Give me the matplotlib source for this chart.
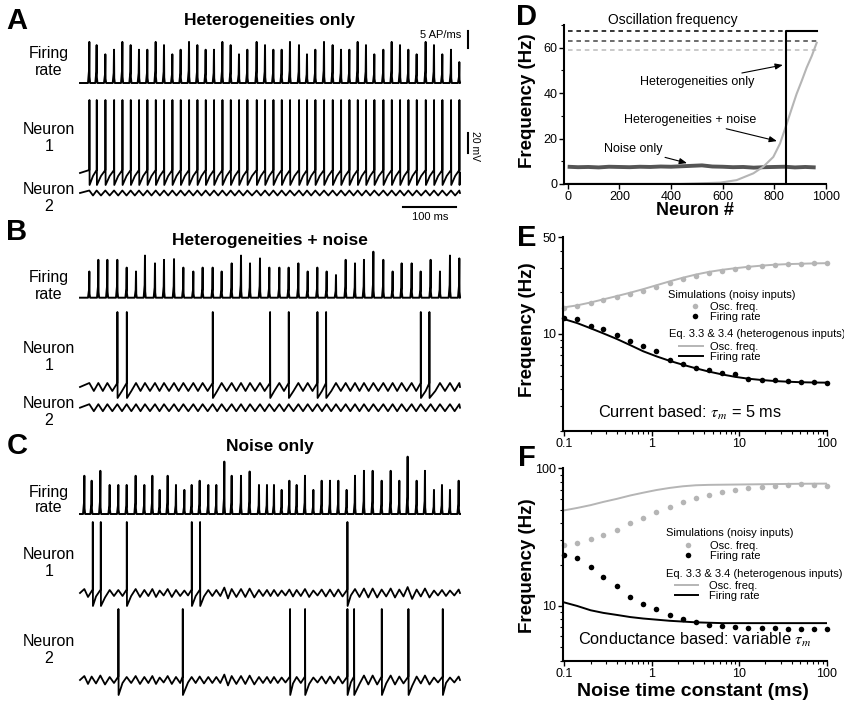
import numpy as np
import matplotlib.pyplot as plt
from matplotlib.lines import Line2D
from matplotlib.ticker import FixedLocator, FixedFormatter, NullFormatter

plt.rcParams['font.family'] = ['Liberation Sans', 'DejaVu Sans']
plt.rcParams['mathtext.fontset'] = 'stix'

# ---------------- data ----------------
T_END = 717  # ms of trace shown in A-C

# A: heterogeneities only (population peaks, ms and AP/ms)
a_rate_t = [17.6, 31.4, 47.8, 64.2, 79.9, 95.6, 111.3, 127.0, 142.8, 158.5, 174.2, 189.9,
            205.7, 221.4, 237.1, 252.8, 268.6, 284.3, 300.0, 315.7, 333.3, 349.1, 364.8,
            380.5, 396.2, 413.2, 428.3, 444.0, 460.4, 476.7, 492.5, 508.2, 523.9, 539.6,
            555.3, 572.3, 588.1, 603.8, 619.5, 635.2, 652.2, 667.9, 683.6, 700.0, 715.7]
a_rate_h = [11.6, 10.7, 8.1, 9.4, 11.6, 10.7, 9.4, 9.4, 11.6, 10.7, 8.1, 9.4, 11.6, 10.7,
            9.4, 9.4, 11.6, 10.7, 8.1, 9.4, 11.6, 10.7, 9.4, 9.4, 11.6, 10.7, 8.1, 9.4, 11.6,
            10.7, 9.4, 9.4, 11.6, 10.7, 8.1, 9.4, 11.6, 10.7, 9.4, 8.1, 11.6, 10.7, 8.1, 9.4, 5.9]
a_n1_spikes = list(a_rate_t)
a_n2_spikes = []

# B: heterogeneities + noise
b_rate_t = [17.6, 34.6, 51.6, 70.4, 88.1, 105.7, 122.6, 141.5, 158.5, 177.4, 195.0, 213.8,
            231.4, 250.3, 267.3, 286.2, 303.8, 320.8, 339.6, 357.2, 376.1, 393.7, 412.0,
            429.6, 447.8, 465.4, 483.0, 501.3, 518.9, 535.8, 553.5, 572.3, 589.9, 606.9,
            625.8, 642.8, 661.6, 679.2, 698.1, 715.7]
b_rate_h = [7.4, 10.7, 10.7, 10.7, 8.5, 7.4, 11.9, 9.7, 10.7, 10.9, 8.5, 7.4, 8.5, 8.5,
            7.4, 9.7, 11.9, 9.7, 11.1, 8.5, 8.5, 8.5, 9.7, 7.4, 8.5, 7.4, 6.4, 10.7, 9.7,
            10.7, 13.0, 10.7, 7.4, 9.7, 9.7, 7.4, 10.7, 7.4, 11.9, 11.1]
b_n1_spikes = [70.4, 88.1, 250.3, 358.5, 393.7, 447.8, 464.2, 642.8, 659.1]
b_n2_spikes = []

# C: noise only
c_rate_t = [8.2, 22.0, 38.4, 56.0, 72.3, 88.1, 105.0, 121.4, 136.5, 150.3, 165.4, 181.1,
            196.9, 210.7, 225.8, 242.1, 257.2, 272.3, 286.2, 303.8, 320.1, 337.7, 352.8,
            366.0, 380.5, 395.0, 408.8, 424.5, 440.3, 456.0, 471.7, 487.4, 503.1, 518.9,
            535.8, 552.2, 569.2, 586.2, 602.5, 618.2, 635.2, 650.9, 667.9, 683.0, 698.1, 714.5]
c_rate_h = [10.8, 9.4, 12.2, 8.2, 8.2, 8.2, 10.8, 8.2, 10.8, 6.8, 10.8, 8.2, 6.8, 8.2,
            9.4, 8.2, 8.2, 14.8, 10.8, 10.8, 12.0, 8.2, 8.2, 8.2, 6.8, 9.4, 8.2, 10.8, 6.8,
            9.4, 9.4, 9.4, 6.8, 10.8, 12.2, 12.2, 9.4, 12.2, 9.4, 16.2, 9.4, 12.2, 6.8, 8.2,
            6.8, 9.4]
c_n1_spikes = [23.9, 39.0, 88.1, 210.7, 226.4, 504.4]
c_n2_spikes = [72.3, 193.7, 396.2, 424.5, 504.4, 517.0, 569.2, 619.5, 684.3]

# D: frequency per neuron
d_het_x = [0, 845, 845, 964]
d_het_y = [0, 0, 67.3, 67.3]
d_hetnoise_x = [0, 435, 590, 654, 719, 757, 796, 822, 848, 867, 886, 906, 925, 945, 964]
d_hetnoise_y = [0, 0, 0.6, 1.7, 4.7, 7.6, 11.9, 17.8, 26.5, 33.1, 39.6, 45.4, 51.2, 56.4, 62.2]
d_noise_x = [0, 40, 80, 120, 160, 200, 240, 280, 320, 360, 400, 440, 480, 520, 560, 600,
             640, 680, 720, 760, 800, 840, 880, 920, 960]
d_noise_y = [7.6, 7.4, 7.5, 7.3, 7.6, 7.5, 7.4, 7.6, 7.5, 7.7, 7.6, 7.8, 8.0, 8.2, 7.7,
             7.6, 7.4, 7.5, 7.2, 7.4, 7.5, 7.6, 7.3, 7.5, 7.3]
d_osc = [67.3, 63.0, 59.0]
d_osc_colors = ['#000000', '#444444', '#bbbbbb']

# E, F: frequency vs noise time constant
tau_noise = [0.1, 0.14, 0.2, 0.28, 0.4, 0.57, 0.8, 1.13, 1.6, 2.26, 3.2, 4.5, 6.4, 9.05,
             12.8, 18.1, 25.6, 36.2, 51.2, 72.4, 100]
e_sim_osc = [15.5, 15.9, 16.7, 17.5, 18.4, 19.4, 20.6, 22.0, 23.5, 24.8, 26.3, 27.5, 28.5,
             29.7, 30.3, 31.0, 31.7, 31.9, 32.2, 32.4, 32.4]
e_sim_rate = [13.1, 12.9, 11.4, 10.8, 9.8, 8.95, 8.23, 7.58, 6.45, 6.04, 5.68, 5.49, 5.20,
              5.11, 4.75, 4.68, 4.62, 4.57, 4.52, 4.50, 4.45]
e_eq_osc = [15.6, 16.1, 16.9, 17.8, 18.8, 19.9, 21.1, 22.5, 24.0, 25.5, 26.9, 28.1, 29.1,
            29.9, 30.6, 31.2, 31.7, 32.0, 32.2, 32.4, 32.5]
e_eq_rate = [12.8, 12.0, 11.0, 10.1, 9.2, 8.3, 7.5, 6.9, 6.4, 6.0, 5.65, 5.35, 5.1, 4.9,
             4.75, 4.65, 4.57, 4.52, 4.48, 4.46, 4.45]
f_sim_osc = [27.6, 28.7, 30.7, 33.0, 35.9, 40.1, 43.5, 47.9, 52.3, 56.5, 60.4, 63.5, 66.8,
             69.4, 71.4, 73.0, 73.8, 75.0, 76.3, 75.8, 73.8]
f_sim_rate = [23.6, 22.4, 19.2, 16.2, 14.0, 11.6, 10.4, 9.46, 8.61, 7.97, 7.58, 7.25, 7.17,
              7.01, 6.90, 6.90, 6.86, 6.78, 6.75, 6.78, 6.78]
f_eq_osc = [49.5, 51.5, 54.0, 57.0, 60.0, 63.5, 66.5, 69.5, 72.0, 74.0, 75.3, 75.8, 76.0,
            76.2, 76.4, 76.6, 76.8, 77.0, 77.2, 77.3, 77.4]
f_eq_rate = [10.6, 10.0, 9.3, 8.9, 8.6, 8.3, 8.1, 7.95, 7.8, 7.7, 7.6, 7.55, 7.5, 7.5, 7.5,
             7.5, 7.5, 7.5, 7.5, 7.5, 7.5]

GRAY = '#b5b5b5'

# ---------------- figure helpers (pixel layout) ----------------
W, H = 844, 702
fig = plt.figure(figsize=(W / 100, H / 100), dpi=100)
FS_PX = 100 / 72


def add_ax(left, top, width, height):
    return fig.add_axes([left / W, 1 - (top + height) / H, width / W, height / H])


def ftext(x, y, s, **kw):
    kw.setdefault('ha', 'center')
    kw.setdefault('va', 'center')
    return fig.text(x / W, 1 - y / H, s, **kw)


X0, X1 = 80, 460


def trace_ax(top, bottom, base_px, px_per_unit):
    ax = add_ax(X0, top, X1 - X0, bottom - top)
    ax.set_xlim(0, T_END)
    ax.set_ylim(-(bottom - base_px) / px_per_unit, (base_px - top) / px_per_unit)
    ax.axis('off')
    return ax


def rate_trace(ax, times, heights):
    t, y = [0.0], [0.0]
    for tk, hk in zip(times, heights):
        t += [tk - 2.5, tk - 0.6, tk, tk + 0.4, tk + 1.5]
        y += [0, 0.3 * hk, hk, 0.15 * hk, 0]
    t.append(T_END)
    y.append(0.0)
    ax.plot(t, y, color='k', lw=1.4, clip_on=False)


def membrane(ax, cycles, spikes, swing, peak, reset, scale=None):
    if scale is None:
        scale = [1.0] * len(cycles)
    pts = [(0.0, 0.0)]
    for i, c in enumerate(cycles):
        if min([abs(c - s) for s in spikes] + [99]) > 4:
            pts.append((c, swing * scale[i] / 2))
        if i + 1 < len(cycles):
            pts.append(((c + cycles[i + 1]) / 2, -swing * scale[i] / 2))
    for s in spikes:
        pts += [(s, swing / 2), (s + 0.2, peak), (s + 0.5, reset)]
    pts.append((T_END, 0.0))
    pts.sort()
    t, v = zip(*pts)
    ax.plot(t, v, color='k', lw=1.3, clip_on=False)


def label_block(y, text, spacing=1.2):
    ftext(49, y, text, fontsize=11.5, linespacing=spacing)


# ---------------- A ----------------
ax = trace_ax(28, 86, 83, 3.54)
rate_trace(ax, a_rate_t, a_rate_h)
ax.plot([732, 732], [9.8, 14.8], color='k', lw=1.5, clip_on=False)
ax = trace_ax(95, 190, 173, 1.0)
membrane(ax, a_rate_t, a_n1_spikes, 6, 73, -12)
ax.plot([732, 732], [20, 40], color='k', lw=1.5, clip_on=False)
ax = trace_ax(185, 200, 193, 1.0)
membrane(ax, a_rate_t, a_n2_spikes, 5, 0, 0)
ax.plot([609, 709], [-14, -14], color='k', lw=1.5, clip_on=False)

ftext(461, 35, '5 AP/ms', fontsize=8, ha='right')
ftext(475, 146, '20 mV', fontsize=7.5, rotation=-90)
ftext(430, 217, '100 ms', fontsize=8)
ftext(270, 20, 'Heterogeneities only', fontsize=12.5, fontweight='bold')
label_block(62, 'Firing\nrate')
label_block(138, 'Neuron\n1')
label_block(198, 'Neuron\n2')

# ---------------- B ----------------
ax = trace_ax(245, 300, 297.7, 3.54)
rate_trace(ax, b_rate_t, b_rate_h)
ax = trace_ax(305, 402, 387, 1.0)
membrane(ax, b_rate_t, b_n1_spikes, 8, 75, -11)
ax = trace_ax(400, 416, 407.7, 1.0)
membrane(ax, b_rate_t, b_n2_spikes, 7, 0, 0)
ftext(270, 240, 'Heterogeneities + noise', fontsize=12.5, fontweight='bold')
label_block(286, 'Firing\nrate')
label_block(357, 'Neuron\n1')
label_block(412, 'Neuron\n2')

# ---------------- C ----------------
c_scale = list(np.array(c_rate_h) / np.mean(c_rate_h))
ax = trace_ax(452, 517, 514, 3.54)
rate_trace(ax, c_rate_t, c_rate_h)
ax = trace_ax(518, 610, 593, 1.0)
membrane(ax, c_rate_t, c_n1_spikes, 7, 71, -13, c_scale)
ax = trace_ax(605, 700, 680, 1.0)
membrane(ax, c_rate_t, c_n2_spikes, 7, 71, -15, c_scale)
ftext(270, 446, 'Noise only', fontsize=12.5, fontweight='bold')
label_block(500, 'Firing\nrate', 1.0)
label_block(563, 'Neuron\n1')
label_block(650, 'Neuron\n2')


# ---------------- right column ----------------
def style(ax):
    for s in ['top', 'right']:
        ax.spines[s].set_visible(False)
    for s in ['left', 'bottom']:
        ax.spines[s].set_linewidth(1.5)
    ax.tick_params(which='major', length=3.5, width=1, labelsize=9, pad=1.5)
    ax.tick_params(which='minor', length=2, width=0.8)


# D
axD = add_ax(564.3, 25, 826 - 564.3, 159)
axD.set_xlim(-13, 1000)
axD.set_ylim(0, 70)
style(axD)
axD.set_xticks([0, 200, 400, 600, 800, 1000])
axD.set_yticks([0, 20, 40, 60])
axD.yaxis.set_minor_locator(FixedLocator([10, 30, 50, 70]))
for yv, col in zip(d_osc, d_osc_colors):
    axD.plot([0, 964], [yv, yv], color=col, lw=1.1, ls=(0, (3, 2.5)))
axD.plot(d_noise_x, d_noise_y, color='#555555', lw=2.8, solid_capstyle='butt')
axD.plot(d_hetnoise_x, d_hetnoise_y, color=GRAY, lw=1.5)
axD.plot(d_het_x, d_het_y, color='k', lw=1.5)
arrow = dict(arrowstyle='-|>,head_length=0.5,head_width=0.2', color='k', lw=0.8,
             shrinkA=0, shrinkB=0)
axD.annotate('Heterogeneities only', xy=(833, 52.4), xytext=(501, 45), fontsize=9,
             ha='center', va='center', arrowprops=arrow)
axD.annotate('Heterogeneities + noise', xy=(810, 18.9), xytext=(474, 28.2), fontsize=9,
             ha='center', va='center', arrowprops=arrow)
axD.annotate('Noise only', xy=(462, 9.2), xytext=(253, 15.4), fontsize=9,
             ha='center', va='center', arrowprops=arrow)
ftext(673, 20, 'Oscillation frequency', fontsize=10)
ftext(695, 210, 'Neuron #', fontsize=13, fontweight='bold')
ftext(527, 101, 'Frequency (Hz)', fontsize=13.5, fontweight='bold', rotation=90)


def log_axes(top, bottom, ylo, yhi, ymajor, yminor):
    ax = add_ax(563.3, top, 826.7 - 563.3, bottom - top)
    ax.set_xscale('log')
    ax.set_yscale('log')
    ax.set_xlim(0.0974, 100.5)
    ax.set_ylim(ylo, yhi)
    style(ax)
    ax.xaxis.set_major_locator(FixedLocator([0.1, 1, 10, 100]))
    ax.xaxis.set_major_formatter(FixedFormatter(['0.1', '1', '10', '100']))
    ax.xaxis.set_minor_locator(FixedLocator([m * d for d in (0.1, 1, 10) for m in range(2, 10)]))
    ax.xaxis.set_minor_formatter(NullFormatter())
    ax.yaxis.set_major_locator(FixedLocator(ymajor))
    ax.yaxis.set_major_formatter(FixedFormatter([str(v) for v in ymajor]))
    ax.yaxis.set_minor_locator(FixedLocator(yminor))
    ax.yaxis.set_minor_formatter(NullFormatter())
    return ax


def two_keys(ax, left1, mid1, hl1, pad1, left2, mid2, hl2, pad2):
    fs = 8 * FS_PX
    common = dict(loc='center left', bbox_transform=fig.transFigure, frameon=False,
                  fontsize=8, borderpad=0, borderaxespad=0, labelspacing=0.0, numpoints=1)
    dots = [Line2D([], [], ls='none', marker='o', ms=4, mec='none', color=GRAY),
            Line2D([], [], ls='none', marker='o', ms=4, mec='none', color='k')]
    leg = ax.legend(dots, ['Osc. freq.', 'Firing rate'],
                    bbox_to_anchor=(left1 / W, 1 - mid1 / H),
                    handlelength=hl1 / fs, handletextpad=pad1 / fs, **common)
    ax.add_artist(leg)
    lines = [Line2D([], [], color=GRAY, lw=1.4), Line2D([], [], color='k', lw=1.4)]
    ax.legend(lines, ['Osc. freq.', 'Firing rate'],
              bbox_to_anchor=(left2 / W, 1 - mid2 / H),
              handlelength=hl2 / fs, handletextpad=pad2 / fs, **common)


def panel_curves(ax, sim_osc, sim_rate, eq_osc, eq_rate):
    ax.plot(tau_noise, eq_osc, color=GRAY, lw=1.4)
    ax.plot(tau_noise, eq_rate, color='k', lw=1.4)
    ax.plot(tau_noise, sim_osc, ls='none', marker='o', ms=4, mec='none', color=GRAY, clip_on=False)
    ax.plot(tau_noise, sim_rate, ls='none', marker='o', ms=4, mec='none', color='k', clip_on=False)


# E
axE = log_axes(237.3, 430.7, 2, 50, [10, 50], [2, 3, 4, 5, 6, 7, 8, 9, 20, 30, 40])
panel_curves(axE, e_sim_osc, e_sim_rate, e_eq_osc, e_eq_rate)
ftext(668, 295, 'Simulations (noisy inputs)', fontsize=8, ha='left')
ftext(669, 334, 'Eq. 3.3 & 3.4 (heterogenous inputs)', fontsize=8, ha='left')
two_keys(axE, 683, 312.2, 24, 3, 679, 352, 24, 7)
ftext(690, 413, r'Current based: $\tau_m$ = 5 ms', fontsize=11.8)
ftext(527, 330, 'Frequency (Hz)', fontsize=13.5, fontweight='bold', rotation=90)

# F
axF = log_axes(468.3, 660.7, 4, 100, [10, 100],
               [4, 5, 6, 7, 8, 9, 20, 30, 40, 50, 60, 70, 80, 90])
panel_curves(axF, f_sim_osc, f_sim_rate, f_eq_osc, f_eq_rate)
ftext(665.7, 533.3, 'Simulations (noisy inputs)', fontsize=8, ha='left')
ftext(665.7, 574, 'Eq. 3.3 & 3.4 (heterogenous inputs)', fontsize=8, ha='left')
two_keys(axF, 676, 550.8, 24, 10, 675, 591.3, 23, 11)
ftext(695, 640, r'Conductance based: variable $\tau_m$', fontsize=11.8)
ftext(693, 691, 'Noise time constant (ms)', fontsize=14, fontweight='bold')
ftext(527, 566, 'Frequency (Hz)', fontsize=13.5, fontweight='bold', rotation=90)

# panel letters
for letter, (x, y) in zip('ABCDEF', [(17, 21), (17, 232), (17, 446),
                                      (527, 17), (527, 238), (527, 458)]):
    ftext(x, y, letter, fontsize=21, fontweight='bold')

fig.savefig('out.png', dpi=100, facecolor='white')
